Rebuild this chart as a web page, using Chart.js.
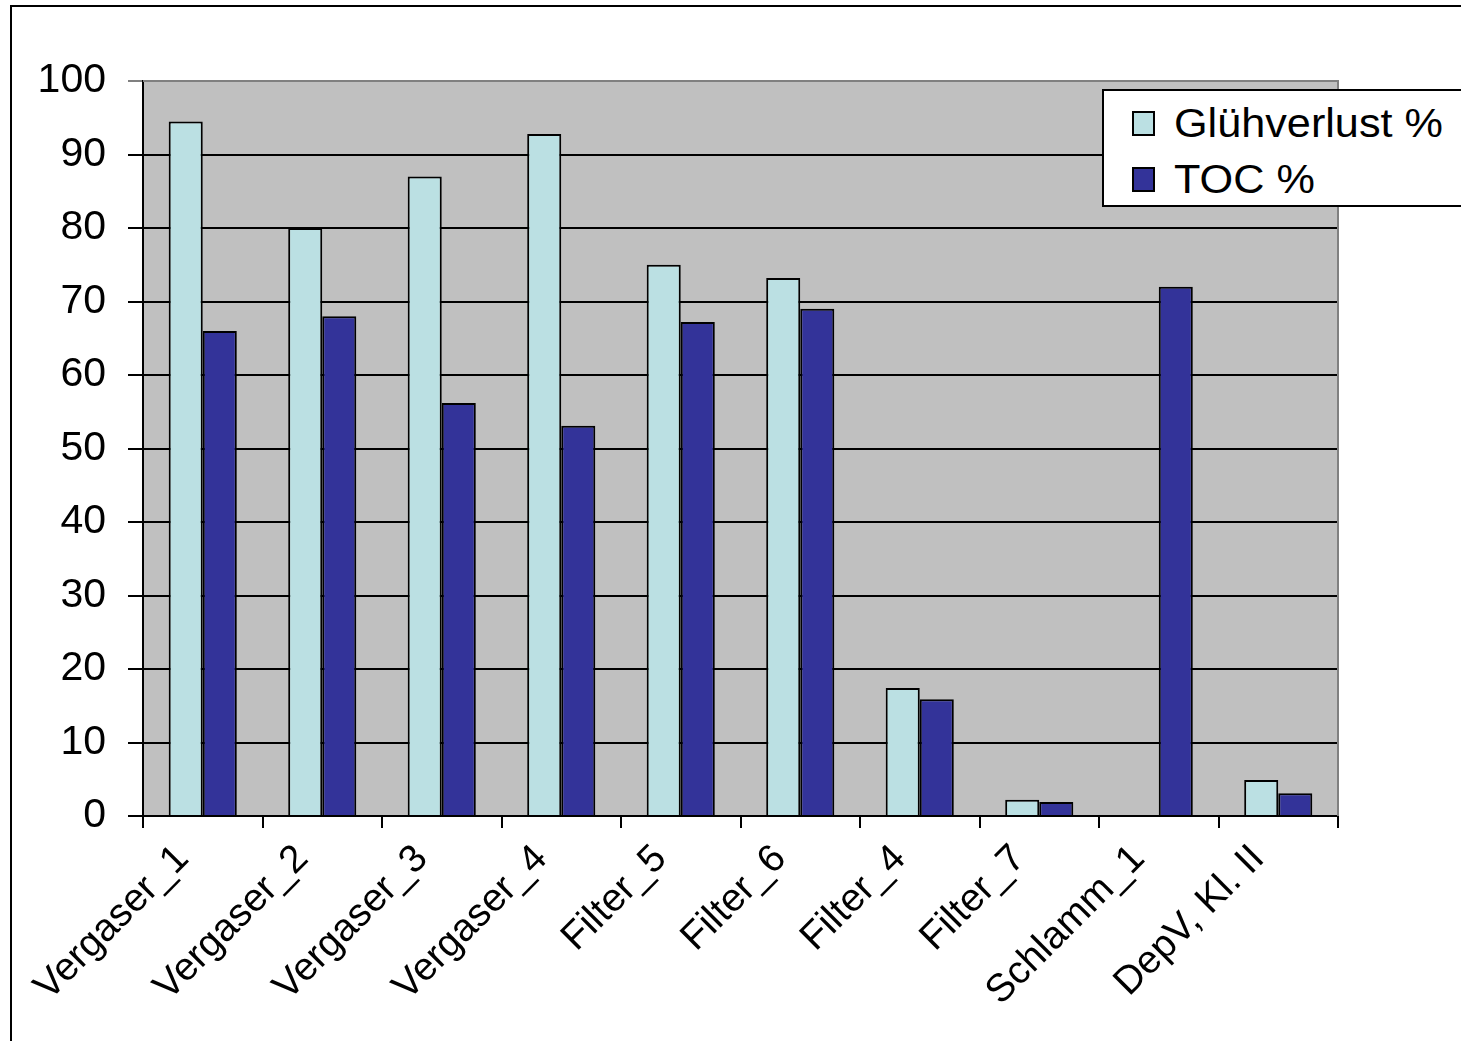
<!DOCTYPE html>
<html>
<head>
<meta charset="utf-8">
<script src="https://cdn.jsdelivr.net/npm/chart.js@4/dist/chart.umd.min.js"></script>
<style>
  html, body { margin: 0; padding: 0; background: #fff; overflow: hidden; }
  #frame { position: absolute; left: 10px; top: 5px; width: 2000px; height: 2000px; border: 2px solid #000; }
  #wrap { position: absolute; left: 0; top: 0; width: 1461px; height: 1041px; }
  #legend { position: absolute; left: 1102px; top: 89px; width: 420px; height: 114px; background: #fff;
            border: 2px solid #000; font-family: Arial, "Liberation Sans", sans-serif; font-size: 40px; color: #000; }
  #legend .item { position: absolute; left: 28px; height: 46px; line-height: 46px; white-space: nowrap; }
  #legend .box { display: inline-block; width: 19px; height: 21px; border: 2px solid #000; vertical-align: middle;
                 margin-right: 19px; position: relative; top: -3px; }
  #legend .txt { display: inline-block; transform: scaleX(1.08); transform-origin: left center; }
</style>
</head>
<body>
<div id="frame"></div>
<div id="wrap"><canvas id="chartCanvas"></canvas></div>
<div id="legend"></div>
<script>
// Proben und Messwerte
const categories = ['Vergaser_1', 'Vergaser_2', 'Vergaser_3', 'Vergaser_4', 'Filter_5',
                    'Filter_6', 'Filter_4', 'Filter_7', 'Schlamm_1', 'DepV, Kl. II'];
const gluehverlust = [94.5, 80, 87, 92.8, 75, 73.2, 17.4, 2.2, null, 4.9];
const toc = [66, 68, 56.2, 53.1, 67.2, 69, 15.9, 1.9, 72, 3.1];
const yTicks = [0, 10, 20, 30, 40, 50, 60, 70, 80, 90, 100];

const seriesLabels = ['Glühverlust %', 'TOC %'];
const seriesColors = ['#BBE0E3', '#333399'];

const FONT = 'Arial, "Liberation Sans", sans-serif';

// graue Zeichenfläche mit grauem Rahmen oben/rechts
const plotBackground = {
  id: 'plotBackground',
  beforeDraw(chart) {
    const { ctx, chartArea: a } = chart;
    ctx.save();
    ctx.fillStyle = '#C0C0C0';
    ctx.fillRect(a.left, a.top, a.right - a.left, a.bottom - a.top);
    ctx.restore();
  },
  afterDatasetsDraw(chart) {
    const { ctx, chartArea: a } = chart;
    ctx.save();
    ctx.strokeStyle = '#808080';
    ctx.lineWidth = 2;
    ctx.beginPath();
    ctx.moveTo(a.left, a.top);
    ctx.lineTo(a.right, a.top);
    ctx.lineTo(a.right, a.bottom);
    ctx.stroke();
    ctx.restore();
  }
};

const ctx = document.getElementById('chartCanvas').getContext('2d');

new Chart(ctx, {
  type: 'bar',
  data: {
    labels: categories,
    datasets: [
      { label: seriesLabels[0], data: gluehverlust, backgroundColor: seriesColors[0] },
      { label: seriesLabels[1], data: toc, backgroundColor: seriesColors[1] }
    ].map(ds => Object.assign(ds, {
      borderColor: '#000',
      borderWidth: 2,
      categoryPercentage: 0.57,
      barPercentage: 1.0
    }))
  },
  options: {
    responsive: true,
    maintainAspectRatio: false,
    animation: false,
    layout: { padding: { top: 81, right: 123, left: 0, bottom: 0 } },
    scales: {
      x: {
        grid: { drawOnChartArea: false, drawTicks: true, tickLength: 12, color: '#000', lineWidth: 2, offset: true },
        border: { color: '#000', width: 2 },
        ticks: {
          color: '#000',
          font: { size: 39, family: FONT },
          minRotation: 45,
          maxRotation: 45,
          padding: 8,
          labelOffset: -20,
          autoSkip: false
        },
        afterFit: (scale) => { scale.height = 225; }
      },
      y: {
        min: 0,
        max: 100,
        afterBuildTicks: (scale) => { scale.ticks = yTicks.map(v => ({ value: v })); },
        grid: {
          color: (c) => (c.tick && c.tick.value === 100 ? '#808080' : '#000'),
          lineWidth: 2,
          tickLength: 15
        },
        border: { color: '#000', width: 2 },
        ticks: {
          color: '#000',
          font: { size: 41, family: FONT },
          padding: 22
        },
        afterFit: (scale) => { scale.width = 143; }
      }
    },
    plugins: {
      legend: { display: false },
      tooltip: { enabled: false }
    }
  },
  plugins: [plotBackground]
});

// Legende rechts oben
const legend = document.getElementById('legend');
seriesLabels.forEach((label, i) => {
  const item = document.createElement('div');
  item.className = 'item';
  item.style.top = (9 + i * 56) + 'px';
  item.innerHTML = '<span class="box" style="background:' + seriesColors[i] + '"></span>' +
                   '<span class="txt">' + label + '</span>';
  legend.appendChild(item);
});
</script>
</body>
</html>
